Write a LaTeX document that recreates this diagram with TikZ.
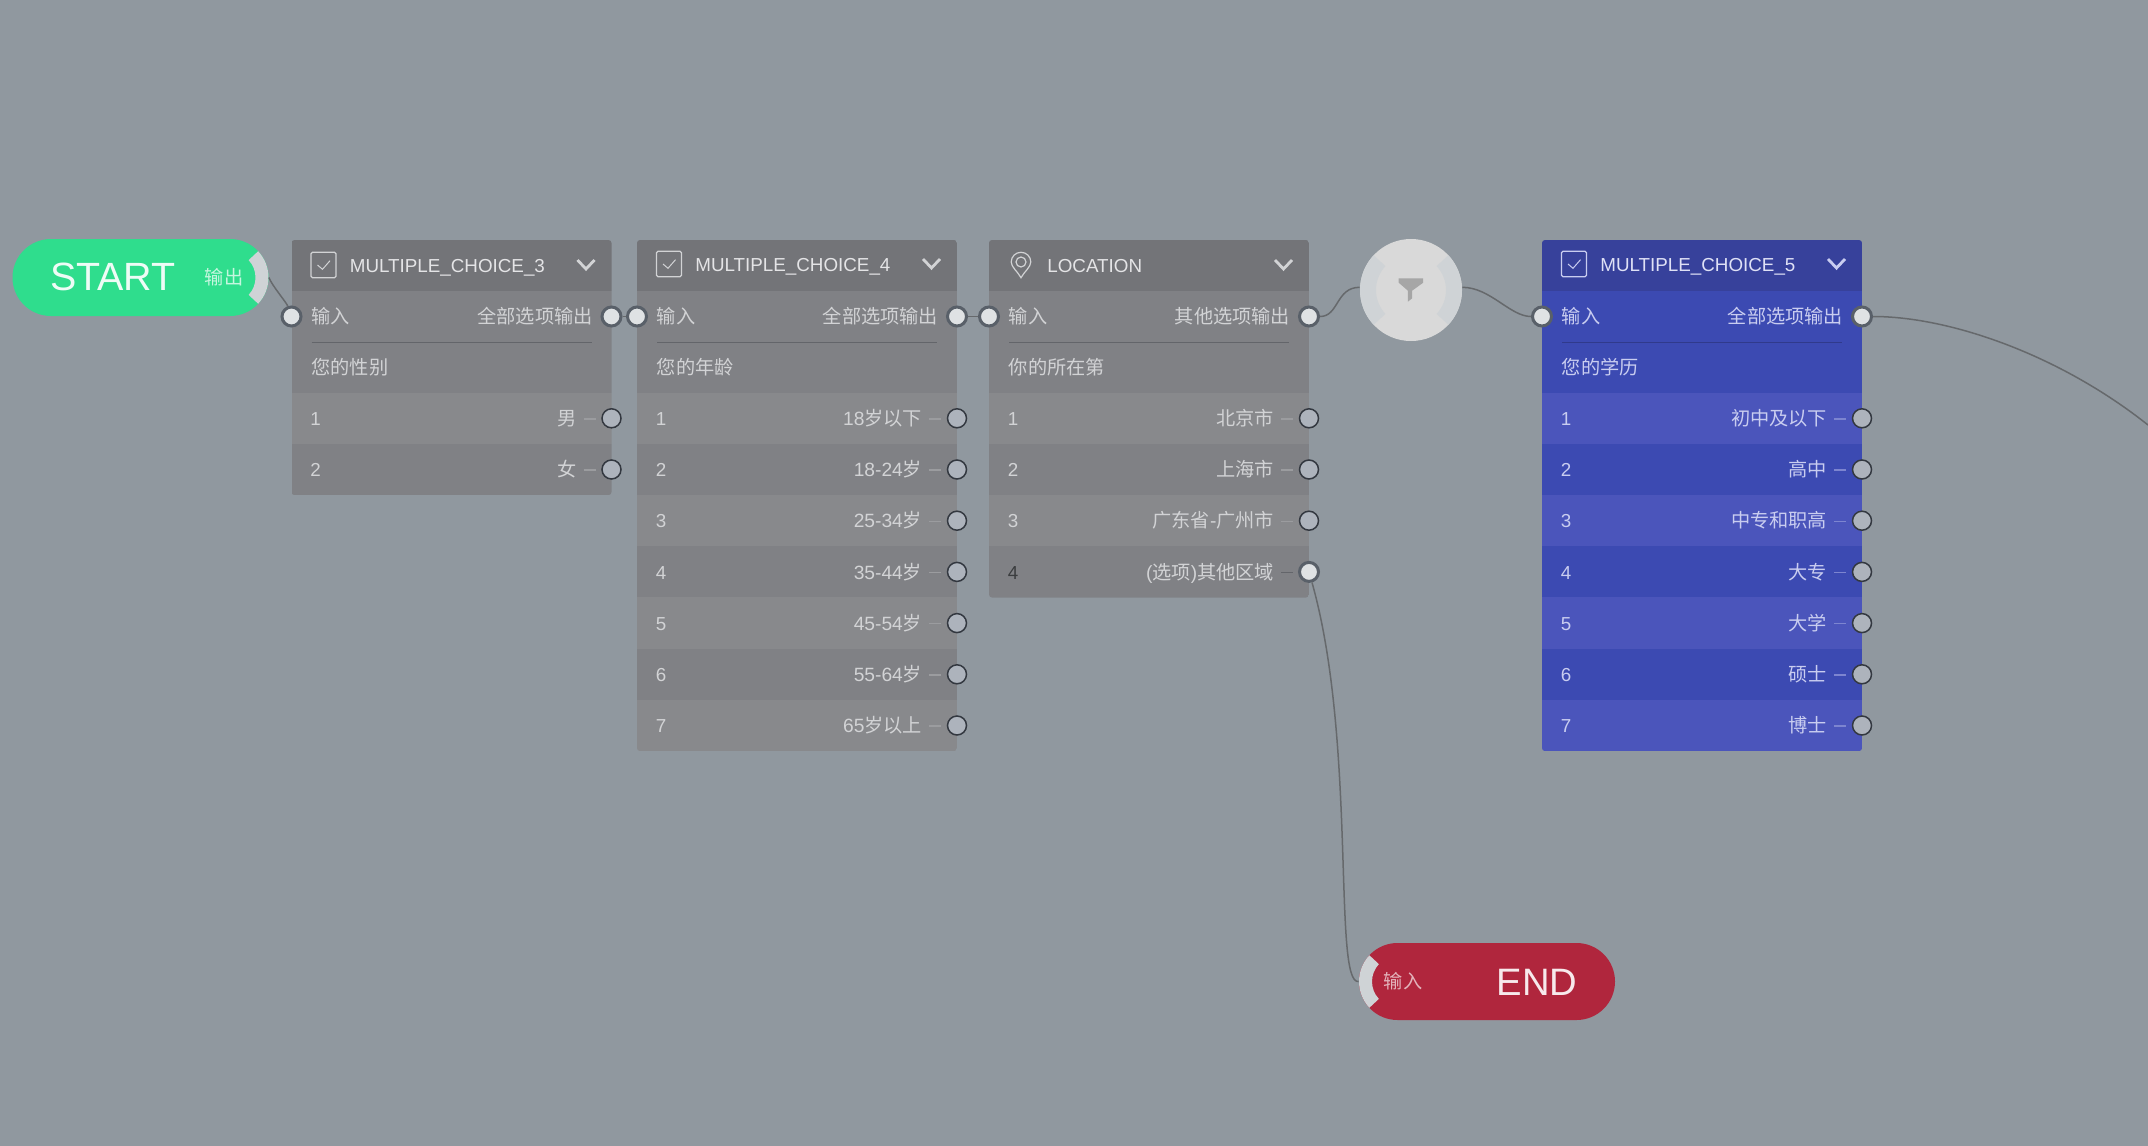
\documentclass[tikz,border=0pt]{standalone}
\usepackage{fontspec}
\setmainfont{Noto Sans CJK SC}
\newfontfamily\lat{Liberation Sans}
\newcommand{\la}[1]{{\lat #1}}
\usepackage{tikz}
\usetikzlibrary{arrows.meta, positioning, calc}

\definecolor{canvas}{HTML}{90989F}
\definecolor{gHead}{HTML}{737478}
\definecolor{gBody}{HTML}{808185}
\definecolor{gRowA}{HTML}{88898C}
\definecolor{gRowB}{HTML}{808185}
\definecolor{gText}{HTML}{D2D3D5}
\definecolor{gRule}{HTML}{63656A}
\definecolor{gDash}{HTML}{9B9C9F}
\definecolor{bHead}{HTML}{37419B}
\definecolor{bBody}{HTML}{3C4AB2}
\definecolor{bRowA}{HTML}{4B55BB}
\definecolor{bRowB}{HTML}{3C4AB2}
\definecolor{bText}{HTML}{C9CDF0}
\definecolor{bRule}{HTML}{303A8C}
\definecolor{bDash}{HTML}{7D85D0}
\definecolor{HeavyEdge}{HTML}{596069}
\definecolor{HeavyFill}{HTML}{DFE2E4}
\definecolor{ThinEdge}{HTML}{333840}
\definecolor{ThinFill}{HTML}{ADB3BC}
\definecolor{WireCol}{HTML}{66696C}
\definecolor{RingCol}{HTML}{CFD3D6}
\definecolor{StartCol}{HTML}{2FDD8D}
\definecolor{EndCol}{HTML}{B0263D}

\tikzset{
    checkicon/.pic={
        \draw[line width=0.6pt, rounded corners=0.8pt] (-12.5,-12.8) rectangle (12.5,12.8);
        \draw[line width=0.5pt] (-6,0) -- (-1,4.3) -- (6.5,-4.3);
    },
    pinicon/.pic={
        \draw[line width=0.6pt] (0,12.7) .. controls (-3,7) and (-9.8,2) .. (-9.8,-3)
            .. controls (-9.8,-8.4) and (-5.4,-12.7) .. (0,-12.7)
            .. controls (5.4,-12.7) and (9.8,-8.4) .. (9.8,-3)
            .. controls (9.8,2) and (3,7) .. cycle;
        \draw[line width=0.6pt] (0,-3) circle[radius=5];
    },
    chevron/.pic={
        \draw[line width=1.4pt] (-8.5,-5) -- (0,4) -- (8.5,-5);
    }
}

\begin{document}
\begin{tikzpicture}[
        x=0.5pt, y=-0.5pt,
        band/.style={rectangle, inner sep=0pt, minimum width=160pt},
        label/.style={inner sep=0pt, text height=7.2pt, text depth=0pt, font=\fontsize{9.6}{11}\selectfont},
        latin/.style={label, font=\fontsize{9.4}{11}\selectfont\lat},
        port/.style={circle, inner sep=0pt, minimum size=9.5pt, line width=1.5pt, draw=HeavyEdge, fill=HeavyFill},
        optport/.style={circle, inner sep=0pt, minimum size=9.5pt, line width=0.75pt, draw=ThinEdge, fill=ThinFill},
        wire/.style={draw=WireCol, line width=0.75pt},
        pill/.style={rectangle, inner sep=0pt, minimum width=128pt, minimum height=38.5pt, rounded corners=19.25pt},
        ring/.style={fill=RingCol}
    ]
    \useasboundingbox (0,0) rectangle (2148,1146);
    \fill[canvas] (0,0) rectangle (2148,1146);

    % Cards
    \foreach \id/\px/\hy/\tone/\n/\wired/\icon/\ttl/\outlab/\ask/\rows in {
        a/291.5/265/g/2/0/checkicon/{MULTIPLE\_CHOICE\_3}/全部选项输出/您的性别/{男,女},
        b/637/264/g/7/0/checkicon/{MULTIPLE\_CHOICE\_4}/全部选项输出/您的年龄/{\la{18}岁以下,\la{18-24}岁,\la{25-34}岁,\la{35-44}岁,\la{45-54}岁,\la{55-64}岁,\la{65}岁以上},
        c/989/265/g/4/4/pinicon/{LOCATION}/其他选项输出/你的所在第/{北京市,上海市,广东省\la{-}广州市,\la{(}选项\la{)}其他区域},
        d/1542/264/b/7/0/checkicon/{MULTIPLE\_CHOICE\_5}/全部选项输出/您的学历/{初中及以下,高中,中专和职高,大专,大学,硕士,博士}} {
        \pgfmathsetmacro\bot{392.7+51.2*\n}
        \begin{scope}
            \clip[rounded corners=1.5pt] (\px,240) rectangle (\px+320,\bot);
            \node[band, fill=\tone Head, minimum height=25.5pt] (\id-head) at (\px+160,265.5) {};
            \node[band, fill=\tone Body, minimum height=51pt] (\id-top) at (\px+160,342) {};
            \foreach \lab [count=\i] in \rows {
                \pgfmathsetmacro\ry{392.7+51.2*(\i-0.5)}
                \ifodd\i \def\shade{RowA}\else \def\shade{RowB}\fi
                \node[band, fill=\tone\shade, minimum height=25.65pt] (\id-row\i) at (\px+160,\ry) {};
            }
        \end{scope}
        \pic[color=\tone Text] at (\px+32,\hy) {\icon};
        \pic[color=\tone Text] at (\px+294.5,\hy) {chevron};
        \node[latin, anchor=west, text=\tone Text!60!white] (\id-title) at (\px+58,\hy) {\ttl};
        \node[label, anchor=west, text=\tone Text] (\id-inlab) at (\px+19.5,316.5) {输入};
        \node[label, anchor=east, text=\tone Text] (\id-outlab) at (\px+301.5,316.5) {\outlab};
        \draw[\tone Rule, line width=0.75pt] (\px+20,342.7) -- (\px+300,342.7);
        \node[label, anchor=west, text=\tone Text] (\id-ask) at (\px+19.5,367.5) {\ask};
        \node[port] (\id-in) at (\px,316.5) {};
        \node[port] (\id-out) at (\px+320,316.5) {};
        % Option rows
        \foreach \lab [count=\i] in \rows {
            \pgfmathsetmacro\ry{392.7+51.2*(\i-0.5)}
            \ifnum\i=\wired
                \def\numcol{gRule!60!black}\def\pst{port}\def\dashcol{gRule}
            \else
                \def\numcol{\tone Text}\def\pst{optport}\def\dashcol{\tone Dash}
            \fi
            \node[latin, anchor=west, text=\numcol] (\id-num\i) at (\px+18.5,\ry) {\i};
            \node[label, anchor=east, text=\tone Text] (\id-opt\i) at (\px+285.5,\ry) {\lab};
            \node[\pst] (\id-p\i) at (\px+320,\ry) {};
            \draw[\dashcol, line width=0.7pt] ($(\id-p\i)+(-28,0.5)$) -- ($(\id-p\i)+(-16,0.5)$);
        }
    }

    % Start and end
    \node[pill, fill=StartCol] (startpill) at (140.5,277.5) {};
    \node[pill, fill=EndCol] (endpill) at (1487,981.5) {};
    \fill[ring] (230,277.5) ++(-43:38.5) arc[start angle=-43, end angle=43, radius=38.5] -- ++(223:13) arc[start angle=43, end angle=-43, radius=25.5] -- cycle;
    \fill[ring] (1397.5,981.5) ++(137:38.5) arc[start angle=137, end angle=223, radius=38.5] -- ++(43:13) arc[start angle=223, end angle=137, radius=25.5] -- cycle;
    \node[inner sep=0pt, text=white!92!StartCol, font=\fontsize{19.7}{21}\selectfont\lat] (starttxt) at (113,277) {START};
    \node[label, text=white!72!StartCol] (startout) at (224,277) {输出};
    \node[inner sep=0pt, text=white!90!EndCol, font=\fontsize{19.1}{21}\selectfont\lat] (endtxt) at (1537,982) {END};
    \node[label, text=white!65!EndCol] (endin) at (1403,981) {输入};

    % Filter
    \node[circle, inner sep=0pt, minimum size=51pt, fill=white!85!black] (filter) at (1411,290) {};
    \fill[ring] (1411,290) ++(137:51) arc[start angle=137, end angle=223, radius=51] -- ++(43:16) arc[start angle=223, end angle=137, radius=35] -- cycle;
    \fill[ring] (1411,290) ++(-43:51) arc[start angle=-43, end angle=43, radius=51] -- ++(223:16) arc[start angle=43, end angle=-43, radius=35] -- cycle;
    \fill[black!35] (1398.7,278.3) -- (1423.2,278.3) -- (1423.2,282.7) -- (1412.1,290.7) -- (1412.1,298.3) -- (1407.9,301.7) -- (1407.9,290.7) -- (1398.7,282.7) -- cycle;

    % Connections
    \coordinate (offpage) at (2148,425);
    \draw[wire] (startpill.east) .. controls +(3,8) and +(-5,-14) .. (a-in);
    \draw[wire] (a-out) -- (b-in);
    \draw[wire] (b-out) -- (c-in);
    \draw[wire] (c-out) .. controls +(30,0) and +(-24,0) .. (filter.177);
    \draw[wire] (filter.3) .. controls +(28,0) and +(-32,0) .. (d-in);
    \draw[wire] (d-out) .. controls +(88,0) and +(-88,-70) .. (offpage);
    \draw[wire] (c-p4) .. controls +(48,170) and +(-26,4) .. (endpill.west);
\end{tikzpicture}
\end{document}
